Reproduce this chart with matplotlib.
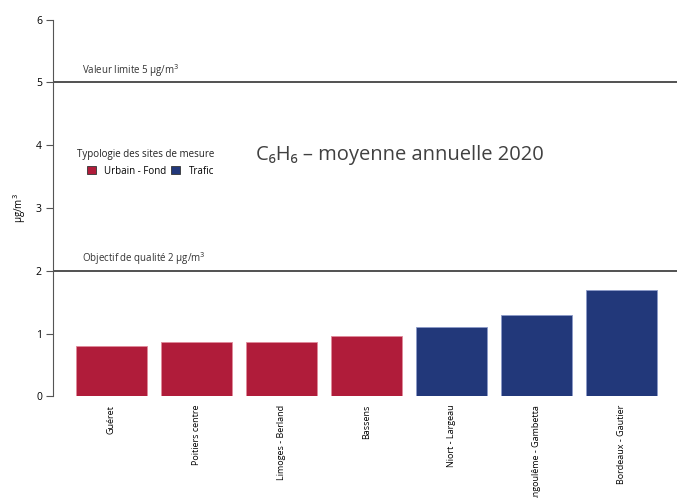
import matplotlib
matplotlib.use("Agg")
import matplotlib.pyplot as plt
from matplotlib.patches import Patch

sites = ["Guéret", "Poitiers centre", "Limoges - Berland", "Bassens",
         "Niort - Largeau", "Angoulême - Gambetta", "Bordeaux - Gautier"]
values = [0.80, 0.86, 0.86, 0.96, 1.10, 1.30, 1.70]
typologie = ["Urbain - Fond", "Urbain - Fond", "Urbain - Fond", "Urbain - Fond",
             "Trafic", "Trafic", "Trafic"]

COLORS = {"Urbain - Fond": "#B01C3A", "Trafic": "#22387A"}
EDGES = {"Urbain - Fond": "#E08A9A", "Trafic": "#8C9AC8"}
FONT = ["Open Sans", "DejaVu Sans"]
plt.rcParams["font.family"] = FONT

W, H = 677, 498
fig = plt.figure(figsize=(W / 100, H / 100), dpi=100)
ax = fig.add_axes([53 / W, 1 - 396.3 / H, (W - 53) / W, 376.6 / H])

x = range(len(sites))
ax.bar(x, values, width=0.835,
       color=[COLORS[t] for t in typologie],
       edgecolor=[EDGES[t] for t in typologie], linewidth=0.6)

ax.set_xlim(-0.688, 6.653)
ax.set_ylim(0, 6)
ax.set_yticks(range(7))
ax.tick_params(axis="y", length=5, color="#555555", labelsize=7.5, pad=3)
ax.set_xticks(list(x))
ax.set_xticklabels(sites, rotation=90, fontsize=6.5, va="top")
ax.tick_params(axis="x", length=0, pad=6)
for s in ["top", "right", "bottom"]:
    ax.spines[s].set_visible(False)
ax.spines["left"].set_color("#555555")

ax.set_ylabel("µg/m$^3$", fontsize=7)
ax.yaxis.set_label_coords(-0.04, 0.5)

# seuils
ax.axhline(5, color="#333333", lw=1.2)
ax.axhline(2, color="#333333", lw=1.2)
ax.text(0.0465, 5.06, "Valeur limite 5 µg/m$^3$", transform=ax.get_yaxis_transform(),
        fontsize=7, color="#333333", va="bottom")
ax.text(0.0465, 2.06, "Objectif de qualité 2 µg/m$^3$", transform=ax.get_yaxis_transform(),
        fontsize=7, color="#333333", va="bottom")

ax.text(400 / W, 1 - 155 / H, "C₆H₆ – moyenne annuelle 2020", transform=fig.transFigure,
        fontsize=14.5, color="#404040", ha="center", va="center")

# legende
fig.text(77 / W, 1 - 155 / H, "Typologie des sites de mesure", fontsize=7,
         color="#222222", va="center", ha="left")
handles = [Patch(facecolor=COLORS[k], edgecolor="#333333", lw=0.6, label=k) for k in COLORS]
fig.legend(handles=handles, ncol=2, loc="upper left",
           bbox_to_anchor=(78 / W, 1 - 157 / H), frameon=False,
           fontsize=7, handlelength=0.9, handleheight=0.9,
           columnspacing=0.5, handletextpad=0.9)

fig.savefig("out.png", dpi=100)
